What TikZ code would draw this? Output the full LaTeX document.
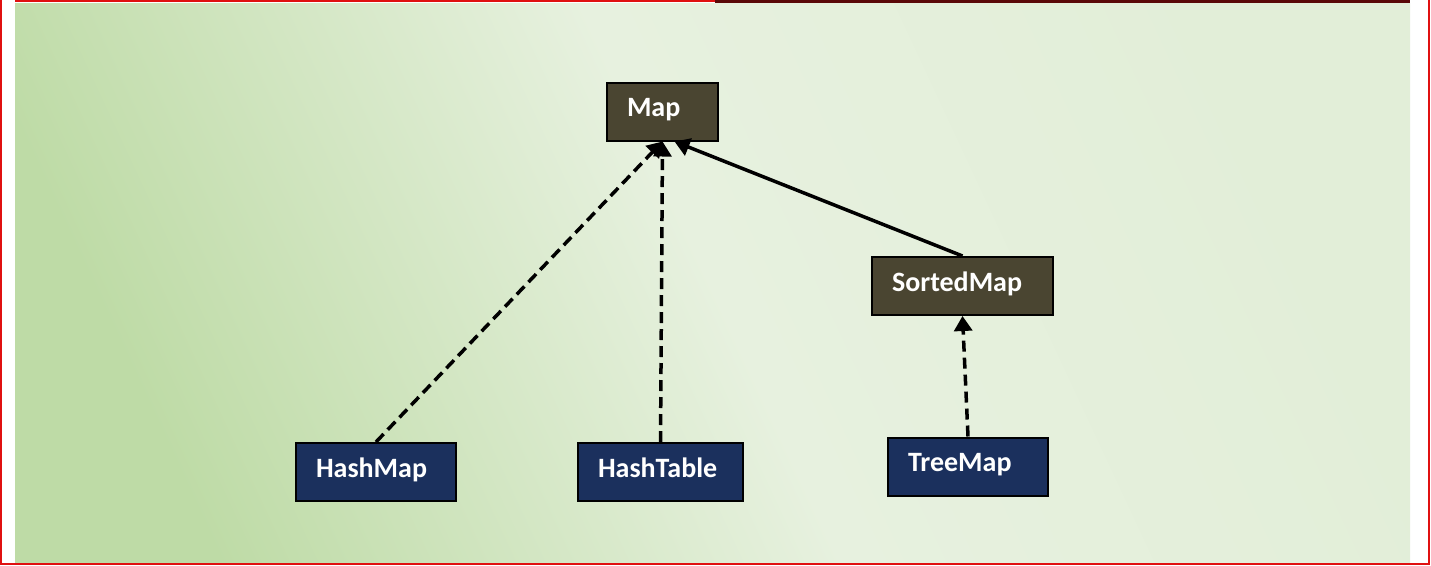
\documentclass[tikz,border=0pt]{standalone}
\usepackage{fontspec}
\setmainfont{Carlito}
\usetikzlibrary{arrows.meta}
\definecolor{olivebox}{HTML}{4A4531}
\definecolor{navybox}{HTML}{1B305D}
\definecolor{bgleft}{HTML}{BEDBA6}
\definecolor{bgmid}{HTML}{E7F1DF}
\definecolor{bgright}{HTML}{E2EED8}
\definecolor{frame}{HTML}{E01010}
\definecolor{darkred}{HTML}{5A0808}
\tikzset{
  box/.style={draw=black, line width=2pt, inner xsep=20pt, inner ysep=0pt,
    align=left, text=white, font=\bfseries\fontsize{28}{32}\selectfont,
    text height=21pt, text depth=11pt, minimum height=58pt},
  iface/.style={box, fill=olivebox},
  cls/.style={box, fill=navybox},
  realize/.style={-{Triangle[width=18pt,length=15pt]}, line width=3.5pt, dash pattern=on 11pt off 6pt},
  extend/.style={-{Triangle[width=18pt,length=15pt]}, line width=3.5pt}
}
\begin{document}
\begin{tikzpicture}[x=1pt,y=-1pt]
\useasboundingbox (0,0) rectangle (1431,565);
\fill[white] (0,0) rectangle (1431,565);
\shade[left color=bgleft, right color=bgright, middle color=bgmid, shading angle=115] (15,3) rectangle (1410,563);
\draw[frame, line width=2pt] (1,0) -- (1,564) -- (1429,564) -- (1429,0);
\draw[frame, line width=1.5pt] (15,1) -- (715,1);
\draw[darkred, line width=3.5pt] (715,1.5) -- (1410,1.5);

\node[iface, text width=71pt] (map) at (662.5,111.5) {Map};
\node[iface, text width=141pt] (sm) at (962.5,286) {SortedMap};
\node[cls, text width=120pt] (hm) at (376,472) {HashMap};
\node[cls, text width=125pt] (ht) at (660.5,472) {HashTable};
\node[cls, text width=120pt] (tm) at (968,466.5) {TreeMap};

\draw[realize] (hm.north) -- (map.south);
\draw[realize] (ht.north) -- (map.south);
\draw[extend] (sm.north) -- ([xshift=12pt]map.south);
\draw[realize] (tm.north) -- (sm.south);
\end{tikzpicture}
\end{document}
